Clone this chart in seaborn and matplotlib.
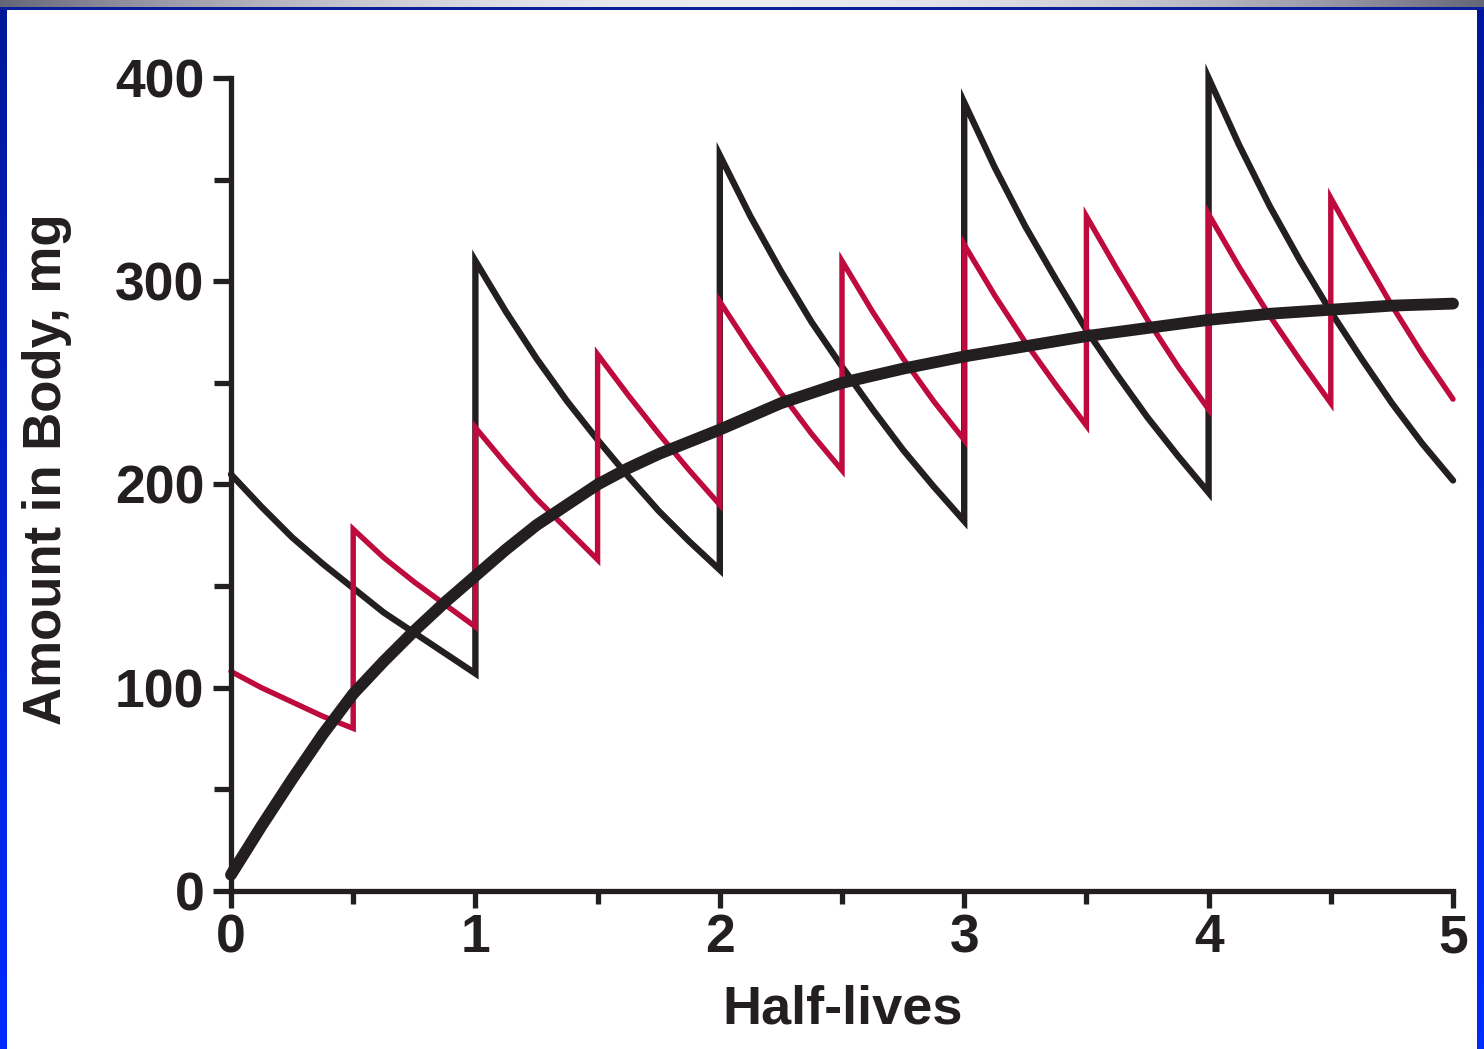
import numpy as np
import pandas as pd
import matplotlib
matplotlib.use("Agg")
import matplotlib.pyplot as plt
import seaborn as sns

# Dosing every half-life (200 mg): amount at eighth-half-life steps after each dose
black_dose_times = [0, 1, 2, 3, 4]
black_segments = [
    [205, 189, 174, 161, 149, 137, 127, 117, 107],
    [310, 285, 262, 241, 222, 204, 187, 172, 158],
    [362, 332, 305, 280, 258, 237, 217, 199, 182],
    [388, 356, 327, 301, 276, 254, 233, 214, 196],
    [400, 367, 337, 310, 285, 262, 240, 220, 202],
]
black_offsets = [0.0, 0.125, 0.25, 0.375, 0.5, 0.625, 0.75, 0.875, 1.0]

# Dosing every half half-life (100 mg): amount at eighth-half-life steps after each dose
red_dose_times = [0, 0.5, 1, 1.5, 2, 2.5, 3, 3.5, 4, 4.5]
red_segments = [
    [108, 100, 93, 86, 80],
    [178, 164, 152, 141, 130],
    [228, 210, 193, 178, 163],
    [264, 244, 225, 207, 190],
    [290, 267, 245, 225, 207],
    [310, 285, 262, 241, 222],
    [318, 293, 270, 249, 229],
    [332, 306, 281, 258, 237],
    [333, 307, 283, 261, 240],
    [341, 314, 288, 264, 242],
]
red_offsets = [0.0, 0.125, 0.25, 0.375, 0.5]

# Continuous infusion
smooth_t = [0, 0.125, 0.25, 0.375, 0.5, 0.625, 0.75, 0.875, 1, 1.125, 1.25, 1.375,
            1.5, 1.625, 1.75, 1.875, 2, 2.25, 2.5, 2.75, 3, 3.25, 3.5, 3.75,
            4, 4.25, 4.5, 4.75, 5]
smooth_amount = [8, 32, 55, 77, 97, 113, 128, 142, 155, 168, 180, 190,
                 200, 208, 215, 221, 227, 240, 250, 257, 263, 268, 273, 277,
                 281, 284, 286, 288, 289]

x_ticks = [0, 1, 2, 3, 4, 5]
y_ticks = [0, 100, 200, 300, 400]
x_label = "Half-lives"
y_label = "Amount in Body, mg"


def sawtooth(dose_times, segments, offsets):
    xs, ys = [], []
    for t0, seg in zip(dose_times, segments):
        for off, v in zip(offsets, seg):
            xs.append(t0 + off)
            ys.append(v)
    return pd.DataFrame({"t": xs, "amount": ys})


black_df = sawtooth(black_dose_times, black_segments, black_offsets)
red_df = sawtooth(red_dose_times, red_segments, red_offsets)
smooth_df = pd.DataFrame({"t": smooth_t, "amount": smooth_amount})

sns.set_theme(style="white")
plt.rcParams["font.family"] = ["Liberation Sans", "DejaVu Sans"]
plt.rcParams["font.weight"] = "bold"

INK = "#231F20"
RED = "#BE0A3C"
W, H = 1484, 1049
fig = plt.figure(figsize=(W / 100, H / 100), dpi=100, facecolor="white")

# Slide frame: grey title bar, blue side strips
bg = fig.add_axes([0, 0, 1, 1], zorder=-10)
bg.set_xlim(0, W)
bg.set_ylim(H, 0)
bg.axis("off")
xg = np.linspace(0, 1, 400)
grey = 1 - 4 * (xg - 0.5) ** 2
bar = np.zeros((1, 400, 3))
bar[0, :, 0] = 0.40 + 0.52 * grey
bar[0, :, 1] = 0.40 + 0.52 * grey
bar[0, :, 2] = 0.48 + 0.46 * grey
bg.imshow(bar, extent=(0, W, 7, 0), aspect="auto", interpolation="bilinear")
bg.add_patch(plt.Rectangle((0, 7), W, 2.5, color="#0A1E9C", lw=0))
yg = np.linspace(0, 1, 300)
side = np.zeros((300, 1, 3))
side[:, 0, 0] = 0.0
side[:, 0, 1] = 0.09 + 0.08 * yg
side[:, 0, 2] = 0.60 + 0.40 * yg
bg.imshow(side, extent=(0, 7, H, 7), aspect="auto", interpolation="bilinear")
bg.imshow(side, extent=(1477, W, H, 7), aspect="auto", interpolation="bilinear")

ax = fig.add_axes([231 / W, 1 - 891 / H, (1453 - 231) / W, (891 - 78) / H])
ax.set_facecolor("none")

sns.lineplot(data=black_df, x="t", y="amount", ax=ax, estimator=None, sort=False,
             color=INK, lw=4.6, clip_on=False)
sns.lineplot(data=red_df, x="t", y="amount", ax=ax, estimator=None, sort=False,
             color=RED, lw=3.9, clip_on=False)
sns.lineplot(data=smooth_df, x="t", y="amount", ax=ax, estimator=None, sort=False,
             color=INK, lw=8.5, clip_on=False)
for line in ax.lines:
    line.set_solid_joinstyle("miter")
ax.lines[-1].set_solid_joinstyle("round")

ax.set_xlim(0, 5)
ax.set_ylim(0, 400)
ax.set_xticks(x_ticks)
ax.set_xticks(np.arange(0.5, 5, 1.0), minor=True)
ax.set_yticks(y_ticks)
ax.set_yticks(np.arange(50, 400, 100), minor=True)
ax.set_xticklabels([str(v) for v in x_ticks])
ax.set_yticklabels([str(v) for v in y_ticks])

for side_name in ["top", "right"]:
    ax.spines[side_name].set_visible(False)
for side_name in ["left", "bottom"]:
    ax.spines[side_name].set_color(INK)
    ax.spines[side_name].set_linewidth(3.8)
    ax.spines[side_name].set_capstyle("projecting")

ax.tick_params(axis="both", which="both", direction="out", color=INK, width=3.8,
               labelcolor=INK, labelsize=38.5)
ax.tick_params(axis="x", which="major", length=12, pad=4, bottom=True)
ax.tick_params(axis="x", which="minor", length=9, bottom=True)
ax.tick_params(axis="y", which="major", length=13, pad=6, left=True)
ax.tick_params(axis="y", which="minor", length=12, left=True)

ax.set_xlabel(x_label, fontsize=39, fontweight="bold", color=INK)
ax.set_ylabel(y_label, fontsize=38, fontweight="bold", color=INK)
ax.xaxis.set_label_coords((843 - 231) / 1222, (891 - 1009) / 813)
ax.xaxis.label.set_va("center")
ax.yaxis.set_label_coords((47 - 231) / 1222, (891 - 469) / 813)
ax.yaxis.label.set_va("center")
ax.yaxis.label.set_ha("center")

fig.savefig("out.png", dpi=100, facecolor="white")
